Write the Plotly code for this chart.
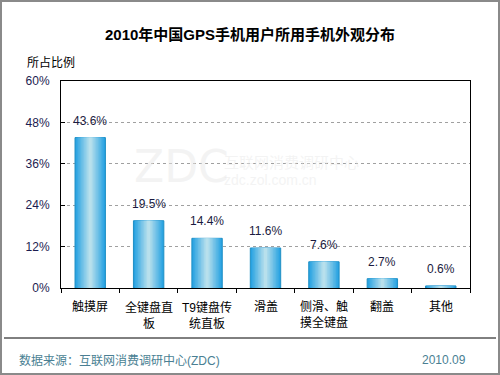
import plotly.graph_objects as go

categories = ["触摸屏", "全键盘直\n板", "T9键盘传\n统直板", "滑盖", "侧滑、触\n摸全键盘", "翻盖", "其他"]
values = [43.6, 19.5, 14.4, 11.6, 7.6, 2.7, 0.6]
y_ticks = [0, 12, 24, 36, 48, 60]

labels = [c.replace("\n", "<br>") for c in categories]

L, R, T, B = 61, 30, 81, 87
W, H = 500, 375
PW, PH = W - L - R, H - T - B

def px(x):
    return (x - L) / PW

def py(y):
    return (H - B - y) / PH

fig = go.Figure()

# gradient bars: overlay of progressively narrower, lighter bars
edge = (40, 162, 226)
center = (184, 224, 236)
full_w = 0.52
n = 10
for i in range(n):
    t = i / (n - 1)
    c = tuple(round(edge[k] + (center[k] - edge[k]) * t) for k in range(3))
    w = full_w * (1 - i / n)
    fig.add_trace(go.Bar(
        x=labels, y=values, width=w,
        marker=dict(color="rgb(%d,%d,%d)" % c,
                    line=dict(color="#1f8fc4" if i == 0 else "rgba(0,0,0,0)", width=1 if i == 0 else 0)),
        hoverinfo="skip", showlegend=False,
    ))

font_cn = "Liberation Sans, Arial, Noto Sans CJK SC, sans-serif"

fig.update_layout(
    width=W, height=H,
    margin=dict(l=L, r=R, t=T, b=B),
    paper_bgcolor="white", plot_bgcolor="white",
    barmode="overlay",
    showlegend=False,
    font=dict(family=font_cn, size=12, color="#000000"),
    title=dict(text="<b>2010年中国GPS手机用户所用手机外观分布</b>",
               x=0.5, xanchor="center", y=1 - 35 / H, yanchor="middle",
               font=dict(size=15, color="#000000", family=font_cn)),
    xaxis=dict(
        type="category", showgrid=False, ticks="outside", tickson="boundaries",
        ticklen=4, tickcolor="#000000", showline=True, linecolor="#000000", linewidth=1,
        mirror=True, showticklabels=False, fixedrange=True,
    ),
    yaxis=dict(
        range=[0, 60], tickvals=y_ticks, ticktext=["%d%%" % v for v in y_ticks],
        showgrid=True, gridcolor="#a0a0a0", griddash="dot", gridwidth=1,
        ticks="inside", ticklen=4, tickcolor="#000000",
        showline=True, linecolor="#000000", linewidth=1, mirror=True,
        tickfont=dict(size=12, color="#1c1c50"), ticklabelstandoff=8,
        zeroline=False, fixedrange=True,
    ),
)

ann = []
for lab, v in zip(labels, values):
    ann.append(dict(text="%.1f%%" % v, x=lab, y=v, xref="x", yref="y",
                    xanchor="center", yanchor="bottom", yshift=8, showarrow=False,
                    font=dict(size=12, color="#1a1a40")))
    ann.append(dict(text=lab, x=lab, y=py(298), xref="x", yref="paper",
                    xanchor="center", yanchor="top", showarrow=False,
                    font=dict(size=12, color="#000000"), align="center"))

wm = "rgba(232,232,232,0.5)"
extra = [
    dict(text="所占比例", x=px(25), y=py(62), xanchor="left", yanchor="middle",
         font=dict(size=12, color="#000000")),
    dict(text="数据来源：互联网消费调研中心(ZDC)", x=px(17), y=py(360), xanchor="left", yanchor="middle",
         font=dict(size=12, color="#4a7f93")),
    dict(text="2010.09", x=px(468), y=py(360), xanchor="right", yanchor="middle",
         font=dict(size=12, color="#4a7f93")),
    dict(text="ZDC", x=px(181), y=py(166), xanchor="center", yanchor="middle",
         font=dict(size=44, color=wm, family="DejaVu Sans")),
    dict(text="互联网消费调研中心", x=px(222), y=py(162), xanchor="left", yanchor="middle",
         font=dict(size=15, color=wm)),
    dict(text="zdc.zol.com.cn", x=px(222), y=py(180), xanchor="left", yanchor="middle",
         font=dict(size=14, color=wm)),
]
for a in extra:
    a.update(xref="paper", yref="paper", showarrow=False)
fig.update_layout(annotations=ann + extra)

fig.add_shape(type="line", xref="paper", yref="paper",
              x0=px(4), x1=px(496), y0=py(338), y1=py(338),
              line=dict(color="#000000", width=1))
fig.add_shape(type="rect", xref="paper", yref="paper",
              x0=px(1), x1=px(499), y0=py(374), y1=py(1),
              line=dict(color="#8a8a8a", width=2))

fig.write_html("out.html", config={"displayModeBar": False},
               post_script="document.body.style.margin='0';document.body.style.padding='0';document.documentElement.style.overflow='hidden';")
